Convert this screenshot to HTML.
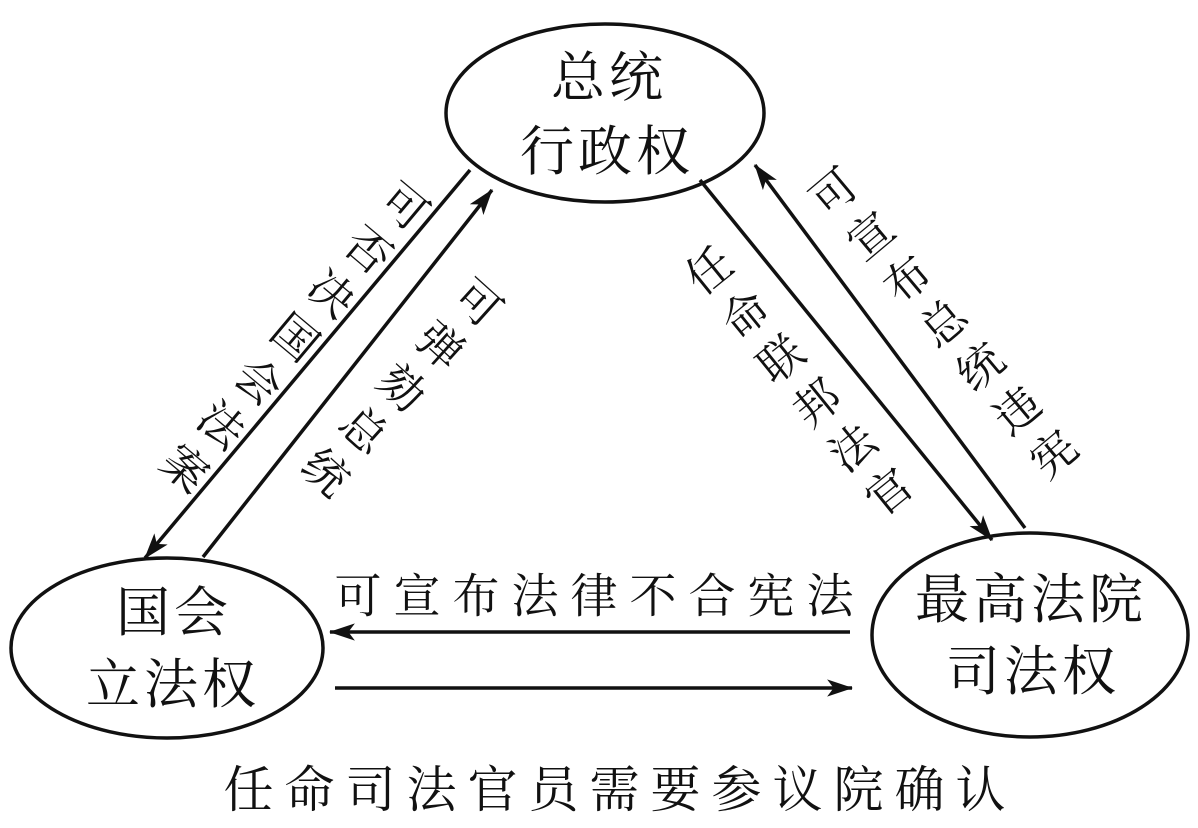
<!DOCTYPE html>
<html><head><meta charset="utf-8"><style>
body{margin:0;width:1198px;height:828px;background:#fff;position:relative;overflow:hidden;font-family:"Liberation Serif","Noto Serif CJK SC","Noto Serif CJK JP",serif;color:#111}
.t{position:absolute;white-space:nowrap;font-size:47px;line-height:1;transform:translate(-50%,-50%)}
.e{font-size:54px;letter-spacing:4px;text-indent:4px}
.v{position:absolute;white-space:nowrap;font-size:45px;line-height:1;writing-mode:vertical-rl;letter-spacing:12px}
</style></head><body>
<svg width="1198" height="828" style="position:absolute;left:0;top:0">
<defs>
<marker id="b" viewBox="0 0 24 16" markerWidth="26" markerHeight="18" refX="23" refY="8" orient="auto" markerUnits="userSpaceOnUse"><path d="M0,0 L24,8 L0,16 L6,8 z" fill="#111"/></marker></defs>
<g fill="none" stroke="#111" stroke-width="3.5">
<ellipse cx="605" cy="113" rx="159" ry="89"/>
<ellipse cx="167" cy="648" rx="156" ry="90"/>
<ellipse cx="1030" cy="635" rx="158" ry="102"/>
<line x1="470" y1="170" x2="145" y2="558" marker-end="url(#b)"/>
<line x1="203" y1="557" x2="492" y2="190" marker-end="url(#b)"/>
<line x1="700" y1="180" x2="992" y2="540" marker-end="url(#b)"/>
<line x1="1025" y1="528" x2="755" y2="165" marker-end="url(#b)"/>
<line x1="850" y1="632" x2="330" y2="632" marker-end="url(#b)"/>
<line x1="335" y1="688" x2="852" y2="688" marker-end="url(#b)"/>
</g></svg>
<div class="t e" style="left:607px;top:78px">总统</div>
<div class="t e" style="left:605px;top:152px">行政权</div>
<div class="t e" style="left:172px;top:613px">国会</div>
<div class="t e" style="left:171px;top:685px">立法权</div>
<div class="t e" style="left:1029px;top:600px">最高法院</div>
<div class="t e" style="left:1031px;top:672px">司法权</div>
<div class="t" style="left:600px;top:598px;letter-spacing:12px">可宣布法律不合宪法</div>
<div class="t" style="left:620px;top:790px;letter-spacing:11px;font-size:50px">任命司法官员需要参议院确认</div>
<div class="v" style="left:288px;top:338px;transform:translate(-50%,-50%) rotate(40deg)">可否决国会法案</div>
<div class="v" style="left:395px;top:388px;transform:translate(-50%,-50%) rotate(42deg)">可弹劾总统</div>
<div class="v" style="left:798px;top:388px;transform:translate(-50%,-50%) rotate(-39deg)">任命联邦法官</div>
<div class="v" style="left:943px;top:330px;transform:translate(-50%,-50%) rotate(-40deg)">可宣布总统违宪</div>
</body></html>
